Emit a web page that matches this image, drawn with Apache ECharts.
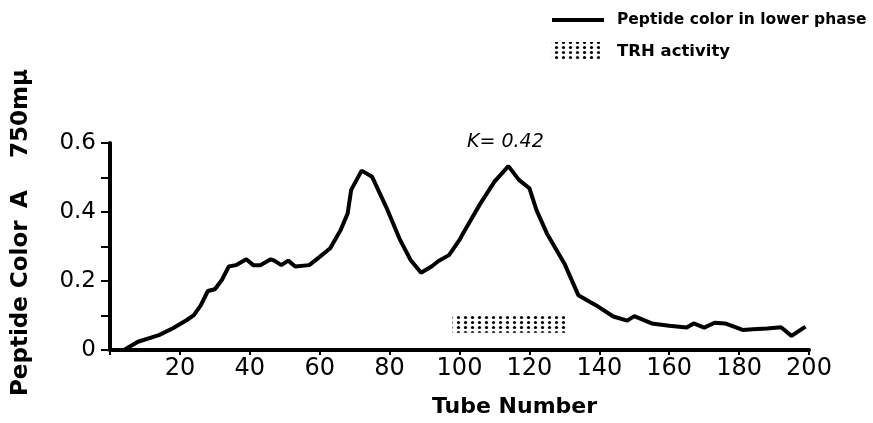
<!DOCTYPE html>
<html><head><meta charset="utf-8">
<script src="https://cdn.jsdelivr.net/npm/echarts@6/dist/echarts.min.js"></script>
<style>html,body{margin:0;padding:0;background:#fff}#c{width:873px;height:423px}</style>
</head><body><div id="c"></div>
<script>
const tubes = [4,8,14,18,22,24,26,28,30,32,34,36,39,41,43,46,47,49,51,53,57,60,63,66,68,69,72,75,79,83,86,89,92,94,97,100,101,106,110,114,117,120,122,125,130,134,139,144,148,150,155,160,165,167,170,173,176,181,184,188,192,195,199];
const colorA = [0,0.024,0.043,0.063,0.087,0.101,0.13,0.171,0.176,0.203,0.242,0.246,0.263,0.246,0.246,0.263,0.259,0.246,0.259,0.242,0.246,0.270,0.295,0.348,0.396,0.464,0.520,0.502,0.415,0.319,0.261,0.224,0.242,0.258,0.275,0.319,0.338,0.425,0.488,0.533,0.493,0.469,0.406,0.338,0.251,0.159,0.130,0.097,0.085,0.098,0.077,0.070,0.065,0.077,0.065,0.079,0.077,0.058,0.060,0.062,0.066,0.041,0.068];
const trhRange = [98, 131];
const trhBand = [0.05, 0.104];
const yTickLabels = {'0':'0','0.2':'0.2','0.4':'0.4','0.6':'0.6'};

const pc = document.createElement('canvas');
pc.width = 7; pc.height = 5;
const g = pc.getContext('2d');
g.fillStyle = '#000';
g.beginPath(); g.arc(3.5, 2.5, 1.6, 0, Math.PI*2); g.fill();
const dotPattern = {image: pc, repeat: 'repeat'};

const FONT = 'DejaVu Sans';
const chart = echarts.init(document.getElementById('c'));
chart.setOption({
  backgroundColor: '#fff',
  animation: false,
  grid: {left: 110, right: 64, top: 143, bottom: 73},
  xAxis: {
    type: 'value', min: 0, max: 200, interval: 20,
    axisLine: {lineStyle: {color: '#000', width: 4}},
    axisTick: {show: true, length: 5, lineStyle: {color: '#000', width: 2}},
    splitLine: {show: false},
    axisLabel: {color: '#000', fontFamily: FONT, fontSize: 24, margin: 7,
      formatter: v => v === 0 ? '' : String(v)}
  },
  yAxis: {
    type: 'value', min: 0, max: 0.6, interval: 0.1,
    axisLine: {show: true, lineStyle: {color: '#000', width: 4}},
    axisTick: {show: true, length: 9, lineStyle: {color: '#000', width: 2}},
    splitLine: {show: false},
    axisLabel: {color: '#000', fontFamily: FONT, fontSize: 23, margin: 14,
      formatter: v => { const k = String(Math.round(v*10)/10); return yTickLabels[k] || ''; }}
  },
  series: [{
    type: 'line',
    data: tubes.map((t, i) => [t, colorA[i]]),
    symbol: 'none',
    lineStyle: {color: '#000', width: 4},
    markArea: {
      silent: true,
      itemStyle: {color: dotPattern},
      data: [[{xAxis: trhRange[0], yAxis: trhBand[0]}, {xAxis: trhRange[1], yAxis: trhBand[1]}]]
    }
  }],
  graphic: [
    {type: 'text', left: 467, top: 133, style: {text: 'K= 0.42', font: 'italic 19px ' + FONT, fill: '#000'}},
    {type: 'text', left: 432, top: 396, style: {text: 'Tube Number', font: 'bold 22px ' + FONT, fill: '#000'}},
    {type: 'text', x: 21, y: 396, rotation: Math.PI/2, style: {text: 'Peptide Color', font: 'bold 23px ' + FONT, fill: '#000', verticalAlign: 'middle', align: 'left'}},
    {type: 'text', x: 21, y: 208, rotation: Math.PI/2, style: {text: 'A', font: 'bold 23px ' + FONT, fill: '#000', verticalAlign: 'middle', align: 'left'}},
    {type: 'text', x: 21, y: 158, rotation: Math.PI/2, style: {text: '750mμ', font: 'bold 23px ' + FONT, fill: '#000', verticalAlign: 'middle', align: 'left'}},
    {type: 'line', shape: {x1: 552, y1: 20, x2: 604, y2: 20}, style: {stroke: '#000', lineWidth: 4}},
    {type: 'text', left: 617, top: 12, style: {text: 'Peptide color in lower phase', font: 'bold 15.5px ' + FONT, fill: '#000'}},
    {type: 'rect', shape: {x: 551, y: 42, width: 49, height: 18}, style: {fill: dotPattern}},
    {type: 'text', left: 617, top: 43, style: {text: 'TRH activity', font: 'bold 16.5px ' + FONT, fill: '#000'}}
  ]
});
</script></body></html>
